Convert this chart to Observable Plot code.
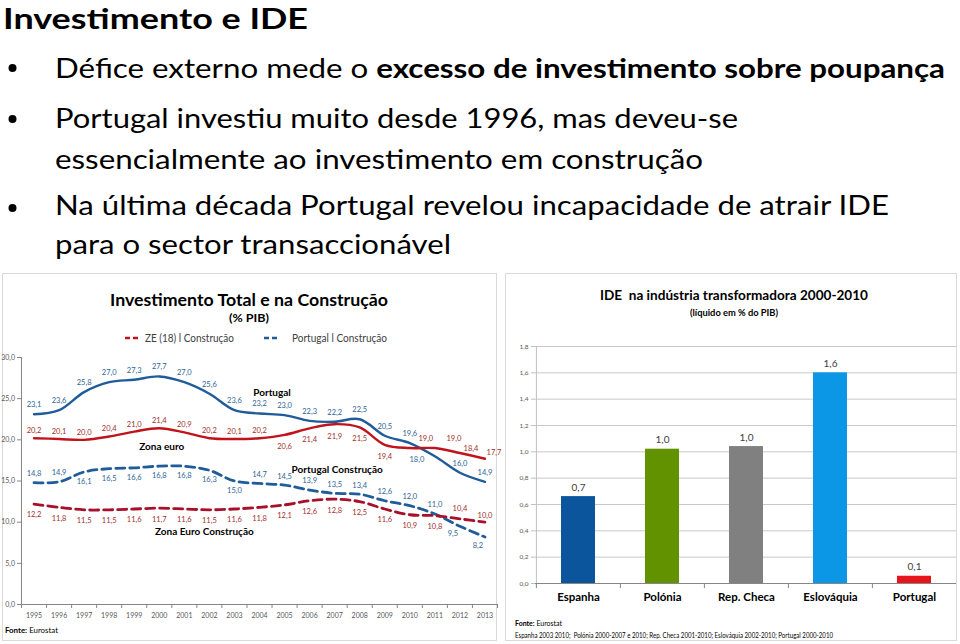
<!DOCTYPE html>
<html>
<head>
<meta charset="utf-8">
<script src="https://cdn.jsdelivr.net/npm/d3@7"></script>
<script src="https://cdn.jsdelivr.net/npm/@observablehq/plot@0.6"></script>
<style>
  body { margin: 0; background: #fff; font-family: Lato, "Noto Sans", sans-serif; }
  #page { position: relative; width: 960px; height: 644px; overflow: hidden; background: #fff; }
  #deco { position: absolute; left: 0; top: 0; }
  .chart { position: absolute; }
  .chart svg { display: block; max-width: none; overflow: visible; }
</style>
</head>
<body>
<div id="page">
  <svg id="deco" width="960" height="644" font-family="Lato, 'Noto Sans', sans-serif">
    <!-- chart frames -->
    <rect x="2.5" y="273.5" width="494" height="367" fill="none" stroke="#D9D9D9" stroke-width="1"/>
    <rect x="505.5" y="273.5" width="451" height="367" fill="none" stroke="#D9D9D9" stroke-width="1"/>

    <!-- slide title and bullets -->
    <text x="3" y="29" font-size="28.5" font-weight="700" fill="#000" textLength="305" lengthAdjust="spacingAndGlyphs">Investimento e IDE</text>
    <circle cx="12.5" cy="68" r="4" fill="#000"/>
    <text x="55" y="78" font-size="27" fill="#000" textLength="890" lengthAdjust="spacingAndGlyphs">Défice externo mede o <tspan font-weight="700">excesso de investimento sobre poupança</tspan></text>
    <circle cx="12.5" cy="119" r="4" fill="#000"/>
    <text x="55" y="128" font-size="27" fill="#000" textLength="683" lengthAdjust="spacingAndGlyphs">Portugal investiu muito desde 1996, mas deveu-se</text>
    <text x="55" y="169" font-size="27" fill="#000" textLength="648" lengthAdjust="spacingAndGlyphs">essencialmente ao investimento em construção</text>
    <circle cx="12.5" cy="208" r="4" fill="#000"/>
    <text x="55" y="215" font-size="27" fill="#000" textLength="834" lengthAdjust="spacingAndGlyphs">Na última década Portugal revelou incapacidade de atrair IDE</text>
    <text x="55" y="254" font-size="27" fill="#000" textLength="396" lengthAdjust="spacingAndGlyphs">para o sector transaccionável</text>

    <!-- left chart title + legend -->
    <text x="249" y="306" text-anchor="middle" font-size="17.5" font-weight="700" fill="#000" textLength="278" lengthAdjust="spacingAndGlyphs">Investimento Total e na Construção</text>
    <text x="249" y="322" text-anchor="middle" font-size="12" font-weight="700" fill="#000" textLength="40" lengthAdjust="spacingAndGlyphs">(% PIB)</text>
    <line x1="125" x2="138" y1="338" y2="338" stroke="#C0141C" stroke-width="2.5" stroke-dasharray="5,3"/>
    <text x="145" y="341.5" font-size="10.5" fill="#404040" textLength="89" lengthAdjust="spacingAndGlyphs">ZE (18) l Construção</text>
    <line x1="264" x2="277" y1="338" y2="338" stroke="#1F5C99" stroke-width="2.5" stroke-dasharray="5,3"/>
    <text x="292" y="341.5" font-size="10.5" fill="#404040" textLength="95" lengthAdjust="spacingAndGlyphs">Portugal l Construção</text>
    <text x="5" y="633" font-size="8" fill="#000" textLength="53" lengthAdjust="spacingAndGlyphs"><tspan font-weight="700">Fonte:</tspan> Eurostat</text>

    <!-- right chart title + sources -->
    <text x="734" y="300" text-anchor="middle" font-size="14" font-weight="700" fill="#000" textLength="268" lengthAdjust="spacingAndGlyphs" style="white-space:pre">IDE  na indústria transformadora 2000-2010</text>
    <text x="734" y="315.5" text-anchor="middle" font-size="9" font-weight="700" fill="#000" textLength="88" lengthAdjust="spacingAndGlyphs">(líquido em % do PIB)</text>
    <text x="515" y="625.5" font-size="7" fill="#000" textLength="47" lengthAdjust="spacingAndGlyphs"><tspan font-weight="700">Fonte:</tspan> Eurostat</text>
    <text x="515" y="637.5" font-size="7.5" fill="#000" textLength="318" lengthAdjust="spacingAndGlyphs" style="white-space:pre">Espanha 2003 2010;  Polónia 2000-2007 e 2010; Rep. Checa 2001-2010; Eslováquia 2002-2010; Portugal 2000-2010</text>
  </svg>
  <div class="chart" id="left" style="left:0px; top:340px;"></div>
  <div class="chart" id="right" style="left:505px; top:335px;"></div>
</div>

<script>
// ---------- Data: left chart (% PIB) ----------
const years = [1995, 1996, 1997, 1998, 1999, 2000, 2001, 2002, 2003, 2004, 2005, 2006, 2007, 2008, 2009, 2010, 2011, 2012, 2013];
const portugalTotal      = [23.1, 23.6, 25.8, 27.0, 27.3, 27.7, 27.0, 25.6, 23.6, 23.2, 23.0, 22.3, 22.2, 22.5, 20.5, 19.6, 18.0, 16.0, 14.9];
const zonaEuroTotal      = [20.2, 20.1, 20.0, 20.4, 21.0, 21.4, 20.9, 20.2, 20.1, 20.2, 20.6, 21.4, 21.9, 21.5, 19.4, 19.0, 19.0, 18.4, 17.7];
const portugalConstrucao = [14.8, 14.9, 16.1, 16.5, 16.6, 16.8, 16.8, 16.3, 15.0, 14.7, 14.5, 13.9, 13.5, 13.4, 12.6, 12.0, 11.0, 9.5, 8.2];
const zonaEuroConstrucao = [12.2, 11.8, 11.5, 11.5, 11.6, 11.7, 11.6, 11.5, 11.6, 11.8, 12.1, 12.6, 12.8, 12.5, 11.6, 10.9, 10.8, 10.4, 10.0];
const leftYTicks = [0, 5, 10, 15, 20, 25, 30];

const seriesNames = ["Portugal", "Zona euro", "Portugal Construção", "Zona Euro Construção"];
const annotationNames = ["Portugal", "Zona euro", "Portugal Construção", "Zona Euro Construção"];
const annotationYears = [2004.5, 2000.1, 2007.1, 2001.8];
const annotationValues = [25.7, 19.2, 16.3, 8.8];

// ---------- Data: right chart (IDE, % PIB) ----------
const countries = ["Espanha", "Polónia", "Rep. Checa", "Eslováquia", "Portugal"];
const ideValues = [0.66, 1.02, 1.04, 1.60, 0.055];
const rightYTicks = [0, 0.2, 0.4, 0.6, 0.8, 1.0, 1.2, 1.4, 1.6, 1.8];
const barColors = ["#0A559C", "#629200", "#808080", "#0B96E6", "#E8141C"];

// ---------- helpers ----------
const fmt = v => d3.format(".1f")(v).replace(".", ",");
const BLUE = "#1F5C99", RED = "#C0141C", RED_D = "#A8102A";
const BLUE_LABEL = "#2E6494", RED_LABEL = "#A0302D";
const FONT = "Lato, 'Noto Sans', sans-serif";

const seriesValues = [portugalTotal, zonaEuroTotal, portugalConstrucao, zonaEuroConstrucao];
const seriesStyle = {
  "Portugal":             {stroke: BLUE,  width: 2.4, dash: null,  label: BLUE_LABEL},
  "Zona euro":            {stroke: RED,   width: 2.4, dash: null,  label: RED_LABEL},
  "Portugal Construção":  {stroke: BLUE,  width: 2.8, dash: "9,5", label: BLUE_LABEL},
  "Zona Euro Construção": {stroke: RED_D, width: 2.8, dash: "9,5", label: RED_LABEL}
};
// label placement relative to the point (pixels): default [dx, dy] and per-year overrides
const labelPlacement = {
  "Portugal": {def: [0, -9.5], over: {2011: [-18, 3]}},
  "Zona euro": {def: [0, -7.5], over: {2005: [0, 11.5], 2006: [0, 11], 2007: [0, 12], 2008: [0, 11], 2009: [0, 12],
                                       2010: [16, -9], 2011: [19, -9], 2012: [11, -4], 2013: [9, -6]}},
  "Portugal Construção": {def: [0, -9], over: {1997: [0, 9.5], 1998: [0, 9.5], 1999: [0, 9.5], 2000: [0, 9.5], 2001: [0, 9.5],
                                                2002: [0, 9.5], 2003: [0, 9.5], 2012: [-7, 7.5], 2013: [-7, 9]}},
  "Zona Euro Construção": {def: [0, 11], over: {2012: [0, -10], 2013: [0, -7]}}
};

const rows = seriesNames.flatMap((s, si) => years.map((y, i) => ({series: s, year: y, value: seriesValues[si][i]})));
rows.forEach(r => {
  const p = labelPlacement[r.series];
  const o = p.over[r.year] || p.def;
  r.dx = o[0]; r.dy = o[1];
});

const lineMarks = seriesNames.map(s => Plot.line(rows.filter(r => r.series === s), {
  x: "year", y: "value",
  stroke: seriesStyle[s].stroke, strokeWidth: seriesStyle[s].width,
  strokeDasharray: seriesStyle[s].dash || undefined,
  curve: "catmull-rom"
}));

// group labels by offset so each group is one text mark
const labelGroups = d3.groups(rows, r => `${r.series}|${r.dx}|${r.dy}`);
const labelMarks = labelGroups.map(([key, g]) => Plot.text(g, {
  x: "year", y: "value", text: d => fmt(d.value),
  dx: g[0].dx, dy: g[0].dy,
  fill: seriesStyle[g[0].series].label, fontSize: 7.5
}));

const annotations = annotationNames.map((t, i) => ({text: t, year: annotationYears[i], value: annotationValues[i]}));
const boundaries = [years[0] - 0.5, ...years.map(y => y + 0.5)];

const left = Plot.plot({
  width: 500, height: 280,
  marginLeft: 21, marginRight: 3, marginTop: 17, marginBottom: 16,
  style: {background: "transparent", fontFamily: FONT, overflow: "visible"},
  x: {domain: [years[0] - 0.5, years[years.length - 1] + 0.5], label: null},
  y: {domain: [0, 30], label: null},
  marks: [
    Plot.ruleX([years[0] - 0.5], {y1: 0, y2: 30, stroke: "#868686"}),
    Plot.ruleY([0], {stroke: "#868686"}),
    Plot.axisY({ticks: leftYTicks, tickFormat: fmt, tickSize: 4, tickPadding: 2.5, fontSize: 7, stroke: "#868686", fill: "#595959", label: null}),
    Plot.axisX({ticks: years, tickFormat: d => String(d), tickSize: 0, tickPadding: 9, fontSize: 7, fill: "#595959", label: null}),
    Plot.axisX({ticks: boundaries, tickFormat: () => "", tickSize: 4, stroke: "#868686", label: null}),
    ...lineMarks,
    ...labelMarks,
    Plot.text(annotations, {x: "year", y: "value", text: "text", fontSize: 10, fontWeight: "bold", fill: "#000"})
  ]
});
document.getElementById("left").appendChild(left);

// ---------- right chart ----------
const bars = countries.map((c, i) => ({country: c, value: ideValues[i]}));
const right = Plot.plot({
  width: 452, height: 273,
  marginLeft: 30, marginRight: 1, marginTop: 11, marginBottom: 25,
  style: {background: "transparent", fontFamily: FONT, overflow: "visible"},
  x: {domain: countries, paddingInner: 0.6, paddingOuter: 0.3, label: null},
  y: {domain: [0, 1.8], label: null},
  color: {domain: countries, range: barColors},
  marks: [
    Plot.gridY(rightYTicks, {stroke: "#C8C8C8", strokeOpacity: 1}),
    Plot.ruleX([countries[0]], {y1: 0, y2: 1.8, dx: -42.1, stroke: "#BFBFBF"}),
    Plot.axisY({ticks: rightYTicks, tickFormat: fmt, tickSize: 4, tickPadding: 3, fontSize: 6.5, stroke: "#BFBFBF", fill: "#595959", label: null}),
    Plot.barY(bars, {x: "country", y: "value", fill: "country"}),
    Plot.text(bars, {x: "country", y: "value", text: d => fmt(d.value), dy: -9, fontSize: 10, fill: "#404040"}),
    Plot.ruleY([0], {stroke: "#868686"}),
    Plot.axisX({ticks: countries, tickFormat: () => "", tickSize: 5, dx: -42.1, stroke: "#868686", label: null}),
    Plot.axisX({ticks: countries, tickSize: 0, tickPadding: 9.5, fontSize: 11.5, fontWeight: "bold", fill: "#000", label: null})
  ]
});
document.getElementById("right").appendChild(right);
</script>
</body>
</html>
